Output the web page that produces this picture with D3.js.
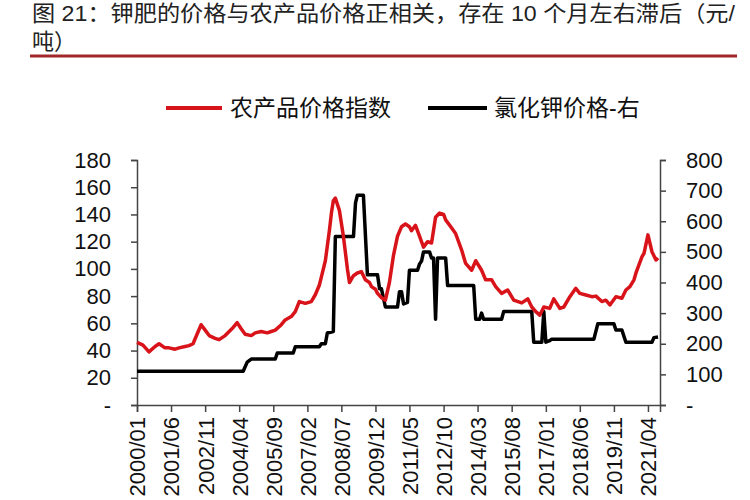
<!DOCTYPE html>
<html>
<head>
<meta charset="utf-8">
<script src="https://cdn.jsdelivr.net/npm/d3@7/dist/d3.min.js"></script>
<style>
  html, body { margin: 0; padding: 0; background: #fff; }
  svg text { font-family: "Liberation Sans", Arial, "Noto Sans CJK SC", sans-serif; }
</style>
</head>
<body>
<svg id="chart" width="750" height="500"></svg>
<script>
// ---------------- data ----------------
const titleLine1 = "图 21：钾肥的价格与农产品价格正相关，存在 10 个月左右滞后（元/";
const titleLine2 = "吨）";
const seriesNames = ["农产品价格指数", "氯化钾价格-右"];

const xTickLabels = ["2000/01","2001/06","2002/11","2004/04","2005/09","2007/02","2008/07",
  "2009/12","2011/05","2012/10","2014/03","2015/08","2017/01","2018/06","2019/11","2021/04"];
const leftTicks = [0,20,40,60,80,100,120,140,160,180];
const rightTicks = [0,100,200,300,400,500,600,700,800];

// 农产品价格指数 (left axis)
const agriDates = ["2000/01","2000/04","2000/07","2000/10","2000/12","2001/03","2001/05","2001/08","2001/10",
  "2002/01","2002/03","2002/05","2002/07","2002/09","2002/11","2003/01","2003/04","2003/06","2003/09","2003/11",
  "2004/01","2004/03","2004/05","2004/07","2004/10","2004/12","2005/03","2005/06","2005/08","2005/10",
  "2006/01","2006/03","2006/06","2006/08","2006/10","2007/01","2007/04","2007/06","2007/08","2007/09","2007/11",
  "2008/01","2008/02","2008/03","2008/04","2008/06","2008/08","2008/10","2008/11","2009/01","2009/03","2009/05",
  "2009/07","2009/09","2009/10","2009/12","2010/01","2010/03","2010/05","2010/07","2010/09","2010/11",
  "2011/01","2011/03","2011/05","2011/06","2011/08","2011/10","2011/12","2012/02","2012/04","2012/06","2012/08",
  "2012/10","2012/11","2013/02","2013/04","2013/07","2013/09","2013/12","2014/02","2014/05","2014/07","2014/10",
  "2014/12","2015/03","2015/06","2015/09","2016/01","2016/04","2016/06","2016/08","2016/10","2016/12",
  "2017/03","2017/05","2017/08","2017/10","2018/01","2018/04","2018/06","2018/09","2018/12","2019/02",
  "2019/05","2019/07","2019/09","2019/12","2020/03","2020/05","2020/07","2020/09","2020/10","2021/01",
  "2021/02","2021/04","2021/06","2021/08","2021/09"];
const agriValues = [46,44,39,43,45,42,42,41,42,
  43,43.6,45,52,59,55,51,49,48,51,54,
  57,60.5,56,52,51,53,54,53,54,55,
  59,62.5,65,68.6,76,74.7,76,81,88,94,106,
  128,141,150,152,143,124,100,90,95,97,98,
  92,90,87,85,82,79,77,90,110,124,
  131,133,131,128,132,124,116,120,119,138,141,
  140,136,130,126,114,104,99,106,99,92,92,
  87,82,84.5,77,75,78,72,68.6,66,72,
  71,78,71,72,79.6,85.7,82,80.8,79.6,80,
  76,77,73.5,79.6,78.4,84.5,87,92,97,109,
  111.5,125,112.6,106.5,108];

// 氯化钾价格 (right axis)
const kclDates = ["2000/01","2004/06","2004/08","2004/10","2005/10","2005/11","2006/07","2006/08","2007/08",
  "2007/09","2007/11","2007/12","2008/03","2008/04","2009/01","2009/02","2009/03","2009/06","2009/08","2010/01",
  "2010/02","2010/03","2010/05","2010/11","2010/12","2011/01","2011/02","2011/04","2011/05","2011/09","2011/10",
  "2011/11","2011/12","2012/03","2012/04","2012/05","2012/06","2012/07","2012/11","2012/12","2014/01","2014/02",
  "2014/04","2014/05","2014/06","2015/03","2015/04","2016/06","2016/07","2016/11","2016/12","2017/01","2017/03",
  "2017/04","2019/01","2019/03","2019/11","2019/12","2020/03","2020/05","2021/06","2021/07","2021/09"];
const kclValues = [110,110,140,150,150,170,170,190,190,
  200,200,235,240,550,550,660,685,685,425,425,
  380,380,320,320,370,370,330,335,440,440,460,
  470,500,500,480,480,280,480,480,390,390,280,
  280,300,280,280,305,305,205,205,305,205,210,
  215,215,265,265,245,245,205,205,220,222];

// ---------------- chart ----------------
const parse = d3.timeParse("%Y/%m");
const svg = d3.select("#chart");

const x = d3.scaleTime().domain([parse("2000/01"), parse("2021/10")]).range([137, 660]);
const yL = d3.scaleLinear().domain([0, 180]).range([405, 160]);
const yR = d3.scaleLinear().domain([0, 800]).range([405, 160]);

// title
svg.append("text").attr("x", 32).attr("y", 21).attr("font-size", 22).attr("fill", "#222")
  .attr("textLength", 703).attr("lengthAdjust", "spacingAndGlyphs").text(titleLine1);
svg.append("text").attr("x", 32).attr("y", 49).attr("font-size", 22).attr("fill", "#222").text(titleLine2);
svg.append("line").attr("x1", 30).attr("x2", 737).attr("y1", 56).attr("y2", 56)
  .attr("stroke", "#a3262b").attr("stroke-width", 3);

// legend
const legend = [
  {name: seriesNames[0], color: "#d8141a", x1: 166, x2: 222, tx: 230},
  {name: seriesNames[1], color: "#000", x1: 428, x2: 487, tx: 494}
];
legend.forEach(l => {
  svg.append("line").attr("x1", l.x1).attr("x2", l.x2).attr("y1", 108).attr("y2", 108)
    .attr("stroke", l.color).attr("stroke-width", 4);
  svg.append("text").attr("x", l.tx).attr("y", 108).attr("dy", "0.36em")
    .attr("font-size", 23).attr("fill", "#111").text(l.name);
});

const fmt = v => v === 0 ? "-" : String(v);

// left axis
const axL = svg.append("g").attr("transform", "translate(137,0)")
  .call(d3.axisLeft(yL).tickValues(leftTicks).tickSize(6).tickFormat(fmt));
// right axis
const axR = svg.append("g").attr("transform", "translate(660,0)")
  .call(d3.axisRight(yR).tickValues(rightTicks).tickSize(6).tickFormat(fmt));
[axL, axR].forEach(a => {
  a.select(".domain").attr("stroke", "#444").attr("stroke-width", 1.5);
  a.selectAll(".tick line").attr("stroke", "#444").attr("stroke-width", 1.5);
  a.selectAll(".tick text").attr("font-size", 22).attr("fill", "#111")
    .style("font-family", '"Liberation Sans", Arial, sans-serif');
});
axL.selectAll(".tick text").attr("x", -26);
axR.selectAll(".tick text").attr("x", 26);

// bottom axis
const axB = svg.append("g").attr("transform", "translate(0,405)")
  .call(d3.axisBottom(x).tickValues(xTickLabels.map(parse)).tickSize(7)
    .tickFormat(d3.timeFormat("%Y/%m")));
axB.select(".domain").attr("stroke", "#444").attr("stroke-width", 1.5);
axB.selectAll(".tick line").attr("stroke", "#444").attr("stroke-width", 1.5);
axB.selectAll(".tick text")
  .attr("font-size", 22).attr("fill", "#111")
  .attr("text-anchor", "end")
  .attr("transform", "rotate(-90)")
  .attr("x", -12).attr("y", 0).attr("dy", "0.36em")
  .style("font-family", '"Liberation Sans", Arial, sans-serif');

// lines
const agri = agriDates.map((d, i) => ({d: parse(d), v: agriValues[i]}));
const kcl = kclDates.map((d, i) => ({d: parse(d), v: kclValues[i]}));

svg.append("path").datum(kcl)
  .attr("fill", "none").attr("stroke", "#000").attr("stroke-width", 3.5)
  .attr("stroke-linejoin", "round")
  .attr("d", d3.line().x(p => x(p.d)).y(p => yR(p.v)));

svg.append("path").datum(agri)
  .attr("fill", "none").attr("stroke", "#d8141a").attr("stroke-width", 3.5)
  .attr("stroke-linejoin", "round")
  .attr("d", d3.line().x(p => x(p.d)).y(p => yL(p.v)));
</script>
</body>
</html>
